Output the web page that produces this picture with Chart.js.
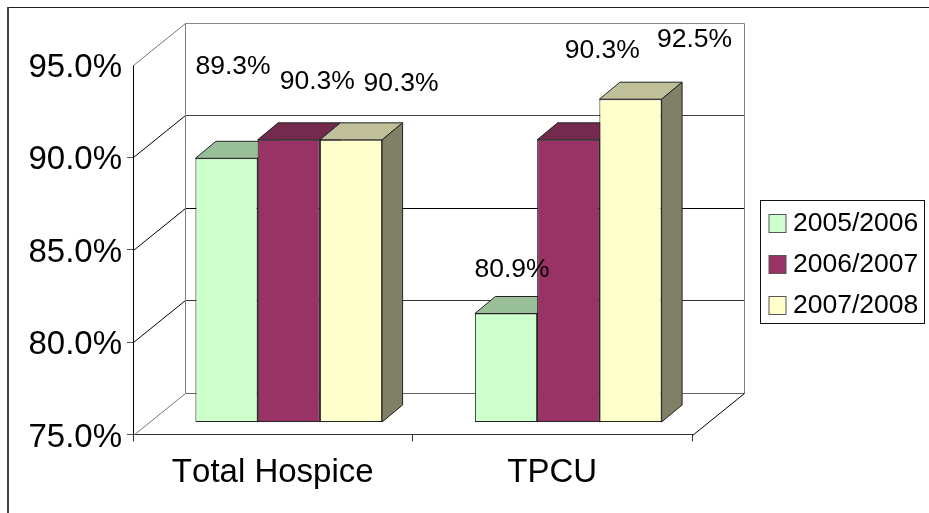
<!DOCTYPE html>
<html lang="en">
  <head>
    <meta charset="UTF-8" />
    <title>Occupancy chart</title>
    <style>
      body {
        margin: 0;
        background: white;
      }

      canvas {
        display: block;
      }
    </style>
  </head>
  <body>
    <canvas id="bar-chart" width="929" height="513"></canvas>
    <script src="https://cdn.jsdelivr.net/npm/chart.js@4"></script>
    <script>
      const categories = ["Total Hospice", "TPCU"];
      const years = ["2005/2006", "2006/2007", "2007/2008"];
      const values2005 = [89.3, 80.9];
      const values2006 = [90.3, 90.3];
      const values2007 = [90.3, 92.5];

      const fontName = '"Liberation Sans", Arial, sans-serif';
      const faces = ["#ccffcc", "#993366", "#ffffcc"];
      const tops = ["#99bf99", "#732a4c", "#bfbf99"];
      const sides = ["#668066", "#4d1a33", "#808066"];

      // depth of the walls and of the bars, in pixels
      const wallX = 52, wallY = -42;
      const barShiftX = 16, barShiftY = -12;
      const barDepthX = 20.5, barDepthY = -17;

      // the labels were moved by hand in the original, so each has its own offset from the bar top
      const labelOffsets = [
        [[6.5, -92], [6, -44]],
        [[28.5, -58], [34, -89]],
        [[50, -56.5], [64, -60]]
      ];

      function line(ctx, x1, y1, x2, y2, color) {
        ctx.strokeStyle = color;
        ctx.lineWidth = 1;
        ctx.beginPath();
        ctx.moveTo(x1, y1);
        ctx.lineTo(x2, y2);
        ctx.stroke();
      }

      function poly(ctx, points, fill) {
        ctx.fillStyle = fill;
        ctx.strokeStyle = "#222";
        ctx.lineWidth = 1;
        ctx.beginPath();
        points.forEach((p, i) => (i ? ctx.lineTo(p[0], p[1]) : ctx.moveTo(p[0], p[1])));
        ctx.closePath();
        ctx.fill();
        ctx.stroke();
      }

      const walls = {
        id: "walls",
        beforeDraw(chart) {
          // the original text has no kerning
          chart.ctx.fontKerning = "none";
        },
        beforeDatasetsDraw(chart) {
          const ctx = chart.ctx;
          const area = chart.chartArea;
          const y = chart.scales.y;
          const colors = ["#666", "#333", "#000", "#444", "#888"];
          const backLeft = area.left + wallX + 0.5;
          const backRight = area.right + wallX + 0.5;
          ctx.save();
          y.ticks.forEach((tick, i) => {
            const py = Math.round(y.getPixelForValue(tick.value)) + 0.5;
            line(ctx, area.left + 0.5, py, backLeft, py + wallY, i == 1 || i == 2 || i == 3 ? "#000" : "#777");
            line(ctx, backLeft, py + wallY, backRight, py + wallY, colors[i]);
          });
          const top = Math.round(area.top) + wallY + 0.5;
          const bottom = Math.round(area.bottom) + wallY + 0.5;
          line(ctx, backLeft, top, backLeft, bottom, "#808080");
          line(ctx, backRight, top, backRight, bottom, "#808080");
          line(ctx, area.right + 0.5, Math.round(area.bottom) + 0.5, backRight, bottom, "#000");

          // tops and sides of the bars, left to right
          ctx.translate(barShiftX, barShiftY);
          chart.data.datasets.forEach((ds, d) => {
            chart.getDatasetMeta(d).data.forEach((bar) => {
              const l = bar.x - bar.width / 2;
              const r = bar.x + bar.width / 2;
              poly(ctx, [[l, bar.y], [l + barDepthX, bar.y + barDepthY], [r + barDepthX, bar.y + barDepthY], [r, bar.y]], tops[d]);
              poly(ctx, [[r, bar.y], [r + barDepthX, bar.y + barDepthY], [r + barDepthX, bar.base + barDepthY], [r, bar.base]], sides[d]);
            });
          });
          ctx.restore();
        },
        beforeDatasetDraw(chart) {
          chart.ctx.save();
          chart.ctx.translate(barShiftX, barShiftY);
        },
        afterDatasetDraw(chart) {
          chart.ctx.restore();
        },
        afterDraw(chart) {
          const ctx = chart.ctx;
          ctx.save();

          // outer frame
          ctx.fillStyle = "#222";
          ctx.fillRect(7, 7, 922, 1);
          ctx.fillStyle = "#444";
          ctx.fillRect(7, 7, 2, 506);

          // value labels
          ctx.fillStyle = "#000";
          ctx.textAlign = "center";
          ctx.textBaseline = "middle";
          ctx.font = "26.5px " + fontName;
          chart.data.datasets.forEach((ds, d) => {
            chart.getDatasetMeta(d).data.forEach((bar, i) => {
              const off = labelOffsets[d][i];
              ctx.fillText(ds.data[i].toFixed(1) + "%", bar.x + barShiftX + off[0], bar.y + barShiftY + off[1]);
            });
          });

          // legend
          ctx.fillStyle = "#fff";
          ctx.strokeStyle = "#111";
          ctx.lineWidth = 1;
          ctx.fillRect(760.5, 200.5, 164, 123);
          ctx.strokeRect(760.5, 200.5, 164, 123);
          ctx.textAlign = "left";
          chart.data.datasets.forEach((ds, d) => {
            const rowY = 223.5 + d * 41;
            ctx.fillStyle = faces[d];
            ctx.strokeStyle = "#555";
            ctx.fillRect(769, rowY - 9, 17, 18);
            ctx.strokeRect(769, rowY - 9, 17, 18);
            ctx.fillStyle = "#000";
            ctx.fillText(ds.label, 793, rowY);
          });
          ctx.restore();
        }
      };

      new Chart(document.getElementById("bar-chart"), {
        type: "bar",
        plugins: [walls],
        data: {
          labels: categories,
          datasets: [
            { label: years[0], data: values2005, backgroundColor: faces[0] },
            { label: years[1], data: values2006, backgroundColor: faces[1] },
            { label: years[2], data: values2007, backgroundColor: faces[2] }
          ]
        },
        options: {
          responsive: false,
          animation: false,
          layout: { padding: { left: 0, top: 65, right: 237, bottom: 0 } },
          datasets: {
            bar: {
              categoryPercentage: 0.668,
              barPercentage: 1,
              base: 75,
              borderWidth: 1,
              borderColor: "#222",
              borderSkipped: false,
              clip: false
            }
          },
          plugins: {
            legend: { display: false },
            tooltip: { enabled: false },
            title: { display: false }
          },
          scales: {
            x: {
              afterFit(scale) {
                scale.height = 78.5;
              },
              border: { color: "#333" },
              grid: { drawOnChartArea: false, tickLength: 7, tickColor: "#333" },
              ticks: {
                color: "#000",
                padding: 12,
                maxRotation: 0,
                font: { family: fontName, size: 33 }
              }
            },
            y: {
              min: 75,
              max: 95,
              afterFit(scale) {
                scale.width = 133;
              },
              border: { color: "#000" },
              grid: {
                drawOnChartArea: false,
                tickLength: 6,
                tickColor: (c) => (c.tick && c.tick.value == 95 ? "rgba(0,0,0,0)" : "#555")
              },
              ticks: {
                stepSize: 5,
                color: "#000",
                padding: 5,
                labelOffset: 3,
                font: { family: fontName, size: 33 },
                callback: (v) => v.toFixed(1) + "%"
              }
            }
          }
        }
      });
    </script>
  </body>
</html>
